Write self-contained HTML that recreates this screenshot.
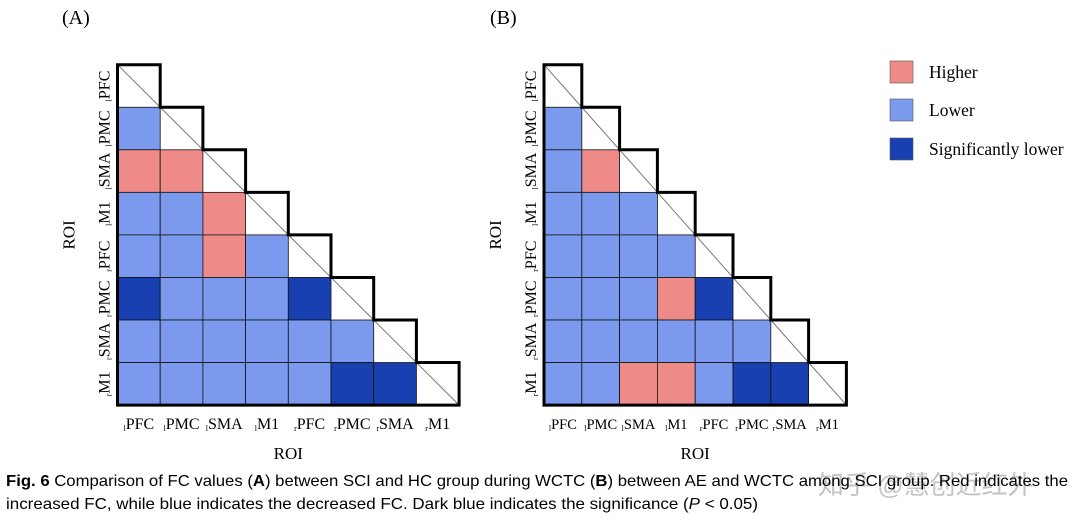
<!DOCTYPE html>
<html><head><meta charset="utf-8"><style>
body{margin:0;background:#fff;width:1080px;height:520px;overflow:hidden}
svg text{font-family:"Liberation Serif",serif}
</style></head><body>
<svg id="s" width="1080" height="520">
<text x="62" y="24" font-size="20">(A)</text>
<text x="490" y="24" font-size="20">(B)</text>
<g>
<rect x="890" y="61" width="23" height="22" fill="#EE8A87" stroke="#555" stroke-width="0.6"/>
<text x="929" y="78" font-size="17.5">Higher</text>
<rect x="890" y="99" width="23" height="22" fill="#7B9AEE" stroke="#555" stroke-width="0.6"/>
<text x="929" y="116" font-size="17.5">Lower</text>
<rect x="890" y="138" width="23" height="22" fill="#1840B0" stroke="#555" stroke-width="0.6"/>
<text x="929" y="155" font-size="17.5">Significantly lower</text>
</g>
<text x="818" y="494" font-size="26" fill="#c4c4c4" style="font-family:'Liberation Sans','Noto Sans CJK SC',sans-serif">知乎 @慧创近红外</text>
<text x="6" y="486" font-size="16" textLength="1062" lengthAdjust="spacingAndGlyphs" style="font-family:'Liberation Sans',sans-serif"><tspan font-weight="bold">Fig. 6</tspan>  Comparison of FC values (<tspan font-weight="bold">A</tspan>) between SCI and HC group during WCTC (<tspan font-weight="bold">B</tspan>) between AE and WCTC among SCI group. Red indicates the</text>
<text x="6" y="509" font-size="16" textLength="752" lengthAdjust="spacingAndGlyphs" style="font-family:'Liberation Sans',sans-serif">increased FC, while blue indicates the decreased FC. Dark blue indicates the significance (<tspan font-style="italic">P</tspan> &lt; 0.05)</text>
</svg>
<script>
const rois=["PFC","PMC","SMA","M1","PFC","PMC","SMA","M1"];
const sides=["l","l","l","l","r","r","r","r"];
// 0=none,1=higher,2=lower,3=significantly lower ; row i has i entries
const matrixA=[[],[2],[1,1],[2,2,1],[2,2,1,2],[3,2,2,2,3],[2,2,2,2,2,2],[2,2,2,2,2,3,3]];
const matrixB=[[],[2],[2,1],[2,2,2],[2,2,2,2],[2,2,2,1,3],[2,2,2,2,2,2],[2,2,1,1,2,3,3]];
const colors=["#fff","#EE8A87","#7B9AEE","#1840B0"];
const S=document.getElementById('s');const NS="http://www.w3.org/2000/svg";
function mk(t,a,p){const e=document.createElementNS(NS,t);for(const k in a)e.setAttribute(k,a[k]);(p||S).appendChild(e);return e;}
function panel(m,x0,y0,cw,ch,name,fs){
 const g=mk('g',{});
 
 
 const n=rois.length;
 for(let i=0;i<n;i++){for(let j=0;j<i;j++){
  const r=mk('rect',{x:x0+j*cw,y:y0+i*ch,width:cw,height:ch,fill:colors[m[i][j]],stroke:'#111','stroke-width':0.8},g);
  
  
 }
  const d=mk('line',{x1:x0+i*cw,y1:y0+i*ch,x2:x0+(i+1)*cw,y2:y0+(i+1)*ch,stroke:'#777','stroke-width':1},g);
  
  
 }
 let p=`M${x0},${y0+n*ch} L${x0},${y0}`;
 for(let i=0;i<n;i++){p+=` L${x0+(i+1)*cw},${y0+i*ch} L${x0+(i+1)*cw},${y0+(i+1)*ch}`;}
 p+=' Z';
 const o=mk('path',{d:p,fill:'none',stroke:'#000','stroke-width':3,'stroke-linejoin':'miter'},g);
 
 
 for(let k=0;k<n;k++){
  const t=mk('text',{x:x0+(k+0.5)*cw,y:y0+n*ch+24,'font-size':fs,'text-anchor':'middle'},g);
  t.innerHTML=`<tspan font-size="8" dy="2">${sides[k]}</tspan><tspan dy="-2">${rois[k]}</tspan>`;
  
  
  const cy=y0+(k+0.5)*ch, cx=x0-8;
  const u=mk('text',{x:cx,y:cy,'font-size':16,'text-anchor':'middle',transform:`rotate(-90 ${cx} ${cy})`},g);
  u.innerHTML=`<tspan font-size="8" dy="2">${sides[k]}</tspan><tspan dy="-2">${rois[k]}</tspan>`;
  
  
 }
 const xt=mk('text',{x:x0+n*cw/2,y:459,'font-size':17,'text-anchor':'middle'},g);xt.textContent='ROI';
 
 
 const yx=x0-43,yy=y0+n*ch/2;
 const yt=mk('text',{x:yx,y:yy,'font-size':17,'text-anchor':'middle',transform:`rotate(-90 ${yx} ${yy})`},g);yt.textContent='ROI';
 
 
}
panel(matrixA,117.5,64.7,42.7,42.55,'heatmap-a',16);
panel(matrixB,544,64.7,37.8,42.55,'heatmap-b',14.5);
</script>
</body></html>
